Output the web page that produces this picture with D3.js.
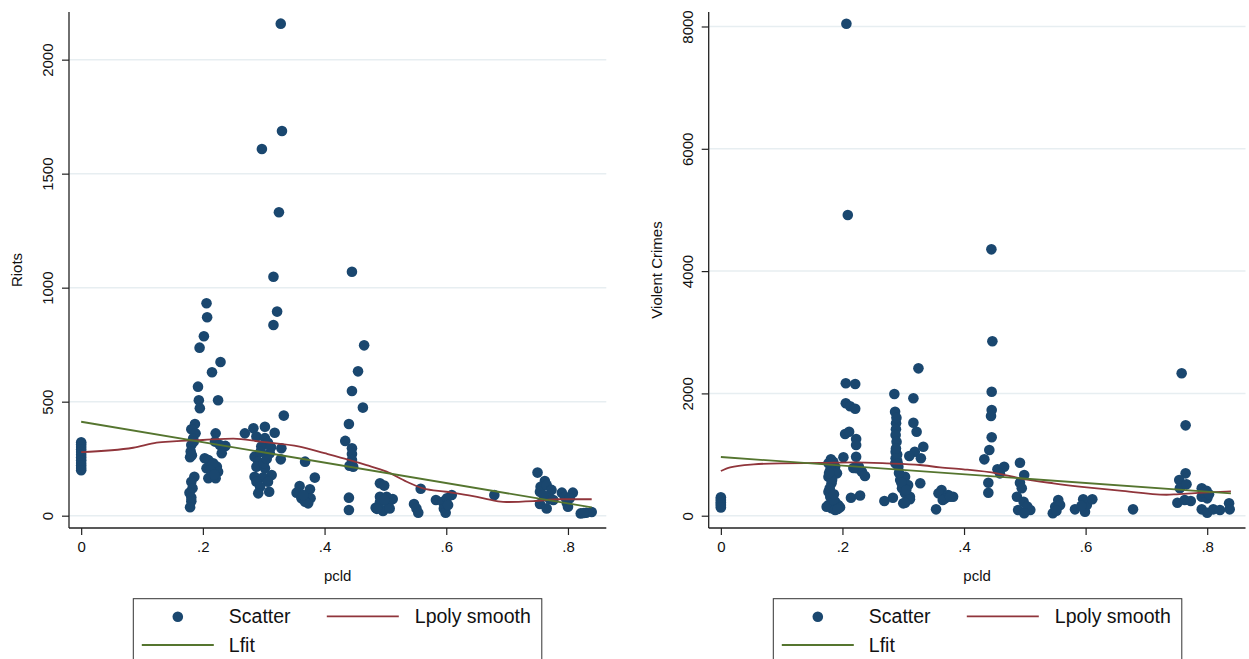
<!DOCTYPE html>
<html>
<head>
<meta charset="utf-8">
<script src="https://cdn.jsdelivr.net/npm/d3@7"></script>
<style>
  html, body { margin: 0; padding: 0; background: #fff; }
  svg { display: block; }
  text { font-family: "Liberation Sans", Arial, Helvetica, sans-serif; fill: #111; }
</style>
</head>
<body>
<svg id="chart" width="1249" height="659"></svg>
<script>
// ---- data: pcld share vs. counts ----
const xTicks = [0, 0.2, 0.4, 0.6, 0.8];
const xTickLabels = ["0", ".2", ".4", ".6", ".8"];
const riotsTicks = [0, 500, 1000, 1500, 2000];
const crimeTicks = [0, 2000, 4000, 6000, 8000];
const legendLabels = ["Scatter", "Lpoly smooth", "Lfit"];

// [pcld, riots]
const riotsPoints = [
  [0,322],[0,312],[0,301],[0,290],[0,279],[0,267],[0,255],[0,243],[0,231],[0,220],[0,209],[0,199],
  [0.187,402],[0.181,379],[0.188,361],[0.184,339],[0.181,310],[0.180,281],[0.179,256],[0.186,171],
  [0.181,149],[0.183,120],[0.178,101],[0.181,80],[0.181,63],[0.179,37],[0.185,325],[0.182,265],
  [0.192,566],[0.1934,506],[0.195,471],[0.1946,737],[0.2017,787],[0.206,932],[0.207,870],[0.215,629],
  [0.229,674],[0.225,506],
  [0.221,361],[0.220,325],[0.228,310],[0.237,306],[0.231,274],[0.203,252],[0.209,244],[0.214,222],
  [0.223,215],[0.206,208],[0.225,193],[0.209,164],[0.221,164],[0.217,230],[0.212,200],[0.219,180],
  [0.269,361],[0.283,383],[0.302,390],[0.318,364],[0.288,347],[0.302,340],[0.307,320],[0.296,303],
  [0.329,296],[0.310,274],[0.285,259],[0.291,237],[0.328,247],[0.288,215],[0.302,208],[0.313,178],
  [0.285,171],[0.299,168],[0.288,149],[0.307,149],[0.294,127],[0.291,98],[0.309,105],[0.333,439],
  [0.297,1608],[0.328,2158],[0.330,1687],[0.325,1331],[0.316,1048],[0.322,895],[0.316,836],
  [0.295,280],[0.312,300],[0.300,230],[0.305,250],
  [0.368,237],[0.384,167],[0.359,130],[0.354,101],[0.362,76],[0.376,116],[0.377,76],[0.373,54],
  [0.368,61],[0.365,90],
  [0.445,1070],[0.465,747],[0.455,633],[0.445,547],[0.463,474],[0.440,402],[0.434,328],[0.445,296],
  [0.445,271],[0.445,244],[0.441,219],[0.447,215],[0.440,79],[0.440,25],
  [0.491,142],[0.498,132],[0.491,83],[0.502,83],[0.512,73],[0.484,35],[0.496,21],[0.505,54],
  [0.491,59],[0.507,32],[0.498,70],[0.486,30],
  [0.558,118],[0.547,51],[0.551,32],[0.554,13],
  [0.583,69],[0.594,61],[0.609,91],[0.601,76],[0.596,32],[0.599,13],[0.603,47],
  [0.679,91],
  [0.750,189],[0.762,152],[0.755,127],[0.754,105],[0.765,135],[0.773,113],[0.770,73],[0.754,51],
  [0.765,32],[0.776,69],[0.760,90],
  [0.790,101],[0.795,83],[0.808,101],[0.798,57],[0.803,76],[0.800,39],
  [0.821,10],[0.830,13],[0.839,16],[0.826,12]
];

// [pcld, violent crimes]
const crimePoints = [
  [0,300],[0,272],[0,245],[0,218],[0,190],[0,162],[0,135],
  [0.181,922],[0.177,857],[0.188,801],[0.180,747],[0.191,693],[0.177,638],[0.182,530],[0.177,393],
  [0.180,311],[0.188,229],[0.177,175],[0.193,175],[0.182,121],[0.196,137],[0.174,147],[0.188,93],
  [0.185,880],[0.183,590],[0.179,450],[0.185,260],[0.192,110],[0.178,700],[0.186,350],
  [0.2065,8046],[0.2088,4917],[0.2055,2165],[0.221,2154],[0.2055,1838],[0.2126,1790],[0.221,1750],
  [0.2044,1336],[0.211,1374],[0.2225,1254],[0.2225,1156],[0.2016,955],[0.2225,965],[0.2236,775],
  [0.232,720],[0.237,650],[0.214,294],[0.229,330],[0.227,800],[0.218,780],
  [0.269,240],[0.283,294],[0.2854,1990],[0.2866,1701],[0.2882,1511],[0.288,1413],[0.2875,1320],
  [0.289,1210],[0.2875,1047],[0.2875,939],[0.287,857],[0.292,801],[0.295,584],[0.303,638],
  [0.308,502],[0.298,448],[0.303,366],[0.311,311],[0.300,202],[0.3167,1920],[0.325,2410],
  [0.3167,1521],[0.322,1374],[0.333,1128],[0.319,1047],[0.310,976],[0.329,939],[0.328,530],
  [0.290,900],[0.290,1000],[0.288,1100],[0.293,700],[0.297,540],[0.305,420],[0.311,268],
  [0.303,213],[0.2888,1600],[0.291,850],
  [0.363,420],[0.374,339],[0.382,311],[0.358,366],[0.369,284],[0.354,104],[0.365,257],[0.377,311],
  [0.445,4356],[0.4466,2852],[0.4455,2028],[0.4455,1729],[0.4444,1630],[0.4455,1282],[0.4416,1074],
  [0.4334,922],[0.455,759],[0.466,801],[0.459,693],[0.440,540],[0.440,376],
  [0.492,867],[0.499,666],[0.492,540],[0.495,448],[0.487,311],[0.498,229],[0.489,93],[0.509,93],
  [0.504,150],[0.499,39],
  [0.546,39],[0.550,147],[0.555,257],[0.558,175],[0.552,80],
  [0.5825,104],[0.596,268],[0.599,65],[0.602,175],[0.611,268],[0.593,160],
  [0.678,104],
  [0.758,2329],[0.7645,1478],[0.7645,693],[0.754,584],[0.755,448],[0.766,513],[0.751,213],
  [0.763,257],[0.773,240],
  [0.791,448],[0.799,409],[0.791,311],[0.800,284],[0.791,104],[0.800,49],[0.810,104],[0.821,93],
  [0.836,202],[0.837,104],[0.795,380],[0.803,350]
];

// local polynomial smooth, sampled along pcld
const riotsLpoly = [
  [0,279],[0.0855,298],[0.124,320],[0.151,326],[0.2,332],[0.25,338],[0.294,325],[0.359,303],
  [0.4,274],[0.441,244],[0.469,222],[0.502,193],[0.535,149],[0.562,120],[0.600,105],[0.644,86],
  [0.683,64],[0.699,60],[0.743,64],[0.787,72],[0.839,72]
];
const crimeLpoly = [
  [0,731],[0.0153,791],[0.054,840],[0.0975,857],[0.163,862],[0.218,873],[0.273,857],[0.3277,829],
  [0.3605,791],[0.399,759],[0.454,693],[0.492,612],[0.547,530],[0.602,464],[0.656,409],
  [0.733,343],[0.750,350],[0.793,376],[0.839,399]
];

// linear fit endpoints
const riotsLfit = [[0,412],[0.839,36]];
const crimeLfit = [[0,960],[0.839,366]];

// ---- styling ----
const colDot = "#1a476f", colPoly = "#90353b", colFit = "#55752f";
const colGrid = "#e7eef1", colAxis = "#222";

const svg = d3.select("#chart");

function drawPanel(opt) {
  const x = d3.scaleLinear().domain([-0.02, 0.863]).range([opt.left, opt.right]);
  const y = d3.scaleLinear().domain(opt.yDomain).range([528, 12]);
  const g = svg.append("g");

  // gridlines
  g.selectAll(".grid").data(opt.yTicks).join("line")
    .attr("x1", opt.left).attr("x2", opt.right)
    .attr("y1", d => y(d)).attr("y2", d => y(d))
    .attr("stroke", colGrid).attr("stroke-width", 1.5);

  // y axis
  const ya = g.append("g").attr("transform", `translate(${opt.left},0)`)
    .call(d3.axisLeft(y).tickValues(opt.yTicks).tickSize(7).tickPadding(6).tickFormat(d3.format("d")));
  ya.select(".domain").attr("stroke", colAxis).attr("stroke-width", 1.3).attr("d", `M0,12V528`);
  ya.selectAll(".tick line").attr("stroke", colAxis).attr("stroke-width", 1.2);
  ya.selectAll(".tick text")
    .attr("font-size", 15).attr("font-family", "Liberation Sans, Arial, sans-serif").attr("fill", "#111")
    .attr("text-anchor", "middle").attr("dy", null).attr("x", null)
    .attr("transform", "translate(-10.6,0) rotate(-90)").attr("y", -5);

  // x axis
  const xa = g.append("g").attr("transform", "translate(0,528)")
    .call(d3.axisBottom(x).tickValues(xTicks).tickSize(7).tickPadding(6)
      .tickFormat((d, i) => xTickLabels[i]));
  xa.select(".domain").attr("stroke", colAxis).attr("stroke-width", 1.3).attr("d", `M${opt.left},0H${opt.right}`);
  xa.selectAll(".tick line").attr("stroke", colAxis).attr("stroke-width", 1.2);
  xa.selectAll(".tick text").attr("font-size", 15)
    .attr("font-family", "Liberation Sans, Arial, sans-serif").attr("fill", "#111");

  // axis titles
  const cx = (opt.left + opt.right) / 2;
  g.append("text").attr("x", cx).attr("y", 581).attr("text-anchor", "middle")
    .attr("font-size", 15).text("pcld");
  g.append("text").attr("transform", `translate(${opt.titleX},270) rotate(-90)`)
    .attr("text-anchor", "middle").attr("font-size", 15).text(opt.yTitle);

  // scatter
  g.append("g").selectAll("circle").data(opt.points).join("circle")
    .attr("cx", d => x(d[0])).attr("cy", d => y(d[1])).attr("r", 5.3).attr("fill", colDot);

  // smooth + fit lines
  const line = d3.line().x(d => x(d[0])).y(d => y(d[1]));
  g.append("path").datum(opt.lpoly).attr("d", line.curve(d3.curveMonotoneX))
    .attr("fill", "none").attr("stroke", colPoly).attr("stroke-width", 1.8);
  g.append("path").datum(opt.lfit).attr("d", d3.line().x(d => x(d[0])).y(d => y(d[1])))
    .attr("fill", "none").attr("stroke", colFit).attr("stroke-width", 1.8);

  // legend
  const lx = opt.legendLeft;
  const lg = g.append("g").attr("transform", `translate(${lx},0)`);
  lg.append("rect").attr("x", 0).attr("y", 598.7).attr("width", 408.5).attr("height", 80)
    .attr("fill", "#fff").attr("stroke", "#333").attr("stroke-width", 1);
  lg.append("circle").attr("cx", 44.5).attr("cy", 616.7).attr("r", 5.3).attr("fill", colDot);
  lg.append("text").attr("x", 95.5).attr("y", 623.3).attr("font-size", 19.5).text(legendLabels[0]);
  lg.append("line").attr("x1", 193.5).attr("x2", 265.5).attr("y1", 616.3).attr("y2", 616.3)
    .attr("stroke", colPoly).attr("stroke-width", 1.8);
  lg.append("text").attr("x", 281.5).attr("y", 623.3).attr("font-size", 19.5).text(legendLabels[1]);
  lg.append("line").attr("x1", 8.5).attr("x2", 80.5).attr("y1", 645).attr("y2", 645)
    .attr("stroke", colFit).attr("stroke-width", 1.8);
  lg.append("text").attr("x", 95.5).attr("y", 652.3).attr("font-size", 19.5).text(legendLabels[2]);
}

drawPanel({
  left: 69, right: 606.3, yDomain: [-54, 2209], yTicks: riotsTicks, yTitle: "Riots", titleX: 21.5,
  points: riotsPoints, lpoly: riotsLpoly, lfit: riotsLfit, legendLeft: 133.3
});
drawPanel({
  left: 708.7, right: 1245.5, yDomain: [-201, 8237], yTicks: crimeTicks, yTitle: "Violent Crimes", titleX: 661.5,
  points: crimePoints, lpoly: crimeLpoly, lfit: crimeLfit, legendLeft: 773.3
});
</script>
</body>
</html>
